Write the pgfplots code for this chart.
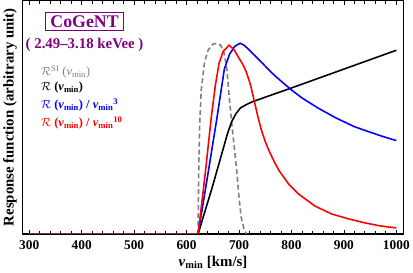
\documentclass[border=0pt]{standalone}
\usepackage{pgfplots}
\pgfplotsset{compat=1.18}
\usepackage{fontspec}
\usepackage{bm}
\setmainfont{Liberation Serif}
\definecolor{pur}{rgb}{0.5,0,0.5}
\definecolor{base}{rgb}{0.5,0.2,0.35}
\newcommand{\vmin}{\textbf{\textit{v}}\textsubscript{\textbf{min}}}
\newcommand{\RR}{$\mathcal{R}$}
\tikzset{legtxt/.style={anchor=west, inner sep=1bp, font=\fontsize{12.5}{12.5}\selectfont\bfseries}}
\begin{document}
\begin{tikzpicture}
\begin{axis}[
  scale only axis, width=384bp, height=235bp,
  xmin=287, xmax=1014, ymin=0, ymax=235,
  xtick={300,400,...,1000}, minor x tick num=4,
  ytick=\empty,
  tick align=inside, major tick length=4bp, minor tick length=3bp,
  every tick/.style={black, line width=0.8pt},
  axis line style={line width=1.2pt},
  /pgf/number format/assume math mode=true,
  xticklabel style={font=\fontsize{13.5}{13.5}\selectfont\bfseries, yshift=-3bp},
  /pgf/number format/1000 sep={},
  xlabel={\vmin\ \textbf{[km/s]}},
  xlabel style={font=\fontsize{15}{15}\selectfont\bfseries, yshift=0bp},
  ylabel={\textbf{Response function (arbitrary unit)}},
  ylabel style={font=\fontsize{15}{15}\selectfont\bfseries, yshift=2bp},
  clip=true,
]
\addplot[base, line width=1.2pt] coordinates {(300,0.8) (622,0.8)};
\addplot[gray, line width=1.6pt, dash pattern=on 5bp off 3bp] coordinates {
(622,0) (623,60) (625,110) (628,145) (634,172) (641,185) (650,191) (658,192)
(665,190) (672,182) (677,165) (681,140) (687,107) (695,67) (700,37) (704,17) (709,6) (714,0)};
\addplot[black, line width=1.6pt] coordinates {
(622,0) (649,47) (678,101) (686,113) (694,121) (703,127) (713,130) (725,133) (757,139) (800,147) (900,166) (1000,185)};
\addplot[blue, line width=1.6pt] coordinates {
(622,0) (640,58) (658,117) (672,166) (682,181) (692,189) (702,192) (710,190) (720,185)
(735,177) (750,169) (765,161) (780,154) (800,145) (820,137) (850,127) (884,117) (920,108) (947,103) (975,98) (1000,94)};
\addplot[red, line width=1.6pt] coordinates {
(622,0) (635,58) (647,117) (655,150) (662,172) (670,184) (681,190) (690,186) (700,177) (707,171)
(714,163) (722,150) (729,134) (736,118) (743,104) (750,93) (757,84) (766,74) (776,64) (795,50) (814,40) (845,28) (877,20) (910,15) (941,11) (970,8) (1000,6)};
\node[draw=pur, line width=0.8pt, text=pur, font=\fontsize{18}{18}\selectfont\bfseries, inner xsep=5bp, inner ysep=3.5bp]
  at (rel axis cs:0.163,0.911) {CoGeNT};
\node[text=pur, font=\fontsize{15}{15}\selectfont\bfseries]
  at (rel axis cs:0.163,0.810) {( 2.49--3.18 keVee )};
\node[legtxt, text=gray, font=\fontsize{12.5}{12.5}\selectfont\mdseries] at (rel axis cs:0.046,0.694) {\RR\textsuperscript{SI} (\textit{v}\textsubscript{min})};
\node[legtxt, text=black] at (rel axis cs:0.046,0.628) {\RR\ (\vmin)};
\node[legtxt, text=blue] at (rel axis cs:0.046,0.553) {\RR\ (\vmin) / \vmin\textsuperscript{3}};
\node[legtxt, text=red] at (rel axis cs:0.046,0.477) {\RR\ (\vmin) / \vmin\textsuperscript{10}};
\end{axis}
\end{tikzpicture}
\end{document}
